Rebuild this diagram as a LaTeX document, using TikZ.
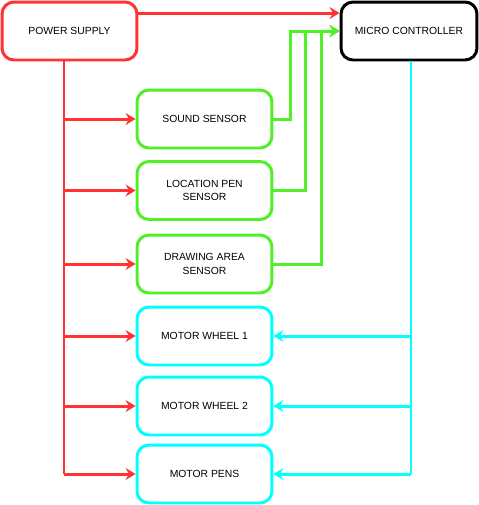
\documentclass[tikz,border=0pt]{standalone}
\usepackage{fontspec}
\setmainfont{Liberation Sans}
\usetikzlibrary{arrows.meta}

\definecolor{pwrred}{RGB}{255,51,51}
\definecolor{sensgreen}{RGB}{80,240,40}
\definecolor{motcyan}{RGB}{0,255,255}

\begin{document}
\begin{tikzpicture}[
  x=0.02cm, y=-0.02cm,
  font=\fontsize{5.9}{7.8}\selectfont,
  block/.style={rounded corners=0.24cm, line width=1.7pt, fill=white,
    minimum width=2.7cm, minimum height=1.16cm, inner sep=2pt, align=center},
  power/.style={draw=pwrred, line width=1.7pt},
  signal/.style={draw=sensgreen, line width=1.7pt},
  drive/.style={draw=motcyan, line width=1.7pt},
  tip/.style={-{Stealth[length=2mm, width=2.4mm, inset=0.7mm]}}
]
  \useasboundingbox (0,0) rectangle (479,505);

  % top row
  \node[block, draw=pwrred] (supply) at (69.5,31) {POWER SUPPLY};
  \node[block, draw=black, minimum width=2.72cm] (micro) at (409,31) {MICRO CONTROLLER};

  % sensors
  \node[block, draw=sensgreen] (sound) at (204.5,119) {SOUND SENSOR};
  \node[block, draw=sensgreen] (location) at (204.5,190.5) {LOCATION PEN\\SENSOR};
  \node[block, draw=sensgreen] (area) at (204.5,264) {DRAWING AREA\\SENSOR};

  % motors
  \node[block, draw=motcyan] (wheel1) at (204.5,336) {MOTOR WHEEL 1};
  \node[block, draw=motcyan] (wheel2) at (204.5,406) {MOTOR WHEEL 2};
  \node[block, draw=motcyan] (pens) at (204.5,474) {MOTOR PENS};

  % power lines
  \draw[power, tip] ([yshift=0.36cm]supply.east) -- ([yshift=0.36cm]micro.west);
  \coordinate (trunk) at ([xshift=-0.11cm]supply.south);
  \draw[power] (trunk) -- (trunk |- pens.west);
  \foreach \n in {sound,location,area,wheel1,wheel2,pens} {
    \draw[power, tip] (trunk |- \n.west) -- (\n.west);
  }

  % sensor signals into the controller
  \foreach \n/\dx in {sound/17, location/32, area/48} {
    \draw[signal, tip] (\n.east) -- ++(\dx,0) |- (micro.west);
  }

  % controller out to the motors
  \coordinate (bus) at ([xshift=0.04cm]micro.south);
  \draw[drive] (bus) -- (bus |- pens.east);
  \foreach \n in {wheel1,wheel2,pens} {
    \draw[drive, tip] (bus |- \n.east) -- (\n.east);
  }
\end{tikzpicture}
\end{document}
